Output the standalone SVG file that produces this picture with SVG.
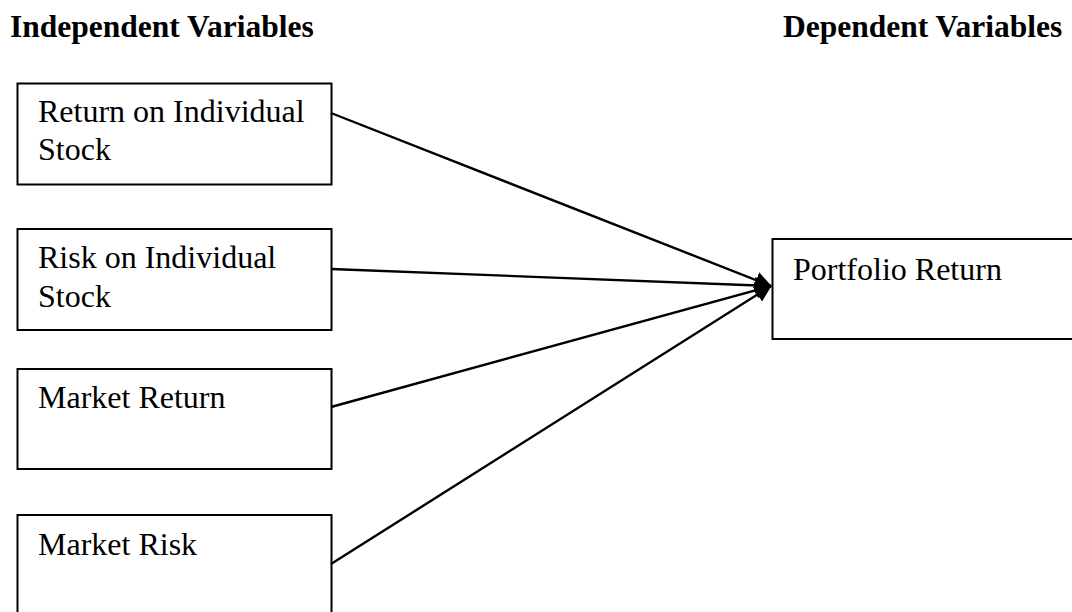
<svg xmlns="http://www.w3.org/2000/svg" width="1072" height="612" viewBox="0 0 1072 612">
<style>
.box{fill:#fff;stroke:#000;stroke-width:2}
.t{font-family:"Liberation Serif","Times New Roman",serif;font-size:32px;fill:#000}
.h{font-family:"Liberation Serif","Times New Roman",serif;font-size:31.5px;font-weight:bold;fill:#000}
.c{stroke:#000;stroke-width:2.4;fill:none;marker-end:url(#ah)}
</style>
<defs>
<marker id="ah" viewBox="0 0 10 10" refX="9.5" refY="5" markerWidth="7" markerHeight="7" markerUnits="strokeWidth" orient="auto">
<path d="M0,0 L10,5 L0,10 z" fill="#000"/>
</marker>
</defs>
<rect width="1072" height="612" fill="#fff"/>
<text class="h" x="10" y="37">Independent Variables</text>
<text class="h" x="783" y="37">Dependent Variables</text>
<g id="n1"><rect class="box" x="17.5" y="83.5" width="314" height="101"/><text class="t" x="38" y="122">Return on Individual</text><text class="t" x="38" y="160">Stock</text></g>
<g id="n2"><rect class="box" x="17.5" y="229" width="314" height="101"/><text class="t" x="38" y="268">Risk on Individual</text><text class="t" x="38" y="307">Stock</text></g>
<g id="n3"><rect class="box" x="17.5" y="369" width="314" height="100"/><text class="t" x="38" y="408">Market Return</text></g>
<g id="n4"><rect class="box" x="17.5" y="515" width="314" height="110"/><text class="t" x="38" y="555">Market Risk</text></g>
<g id="n5"><rect class="box" x="772.5" y="239" width="310" height="100"/><text class="t" x="793" y="280">Portfolio Return</text></g>
<g id="connectors">
<line class="c" x1="331" y1="113" x2="771" y2="286"/>
<line class="c" x1="331" y1="269" x2="771" y2="286"/>
<line class="c" x1="331" y1="407" x2="771" y2="286"/>
<line class="c" x1="331" y1="564" x2="771" y2="286"/>
</g>
</svg>
